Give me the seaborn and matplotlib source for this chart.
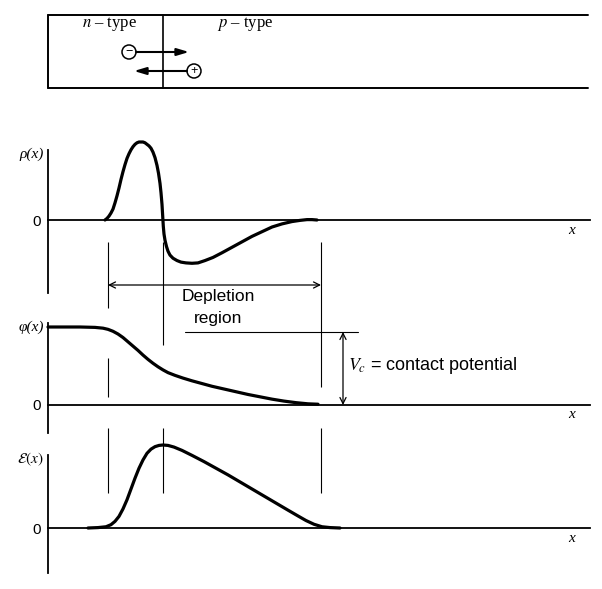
import matplotlib
matplotlib.use("Agg")
import matplotlib.pyplot as plt
from matplotlib.patches import Circle
import pandas as pd
import seaborn as sns

W, H = 602, 589

# charge density rho(x), normalised to its positive peak
rho_x = [105, 107, 109, 111, 113, 115, 117, 119, 121, 123, 125, 127, 129, 131, 133, 135,
         137, 139, 141, 143, 145, 147, 149, 151, 153, 155, 157, 158.5, 160, 161, 162,
         162.7, 163.3, 164, 165, 166.5, 168, 170, 173, 177, 181, 186, 192, 198, 205,
         213, 222, 232, 242, 252, 262, 272, 282, 292, 300, 307, 312, 317]
rho_val = [0.0, 0.02, 0.05, 0.09, 0.14, 0.22, 0.31, 0.41, 0.52, 0.62, 0.71, 0.79, 0.85,
           0.90, 0.94, 0.97, 0.99, 1.0, 1.0, 1.0, 0.99, 0.97, 0.95, 0.92, 0.87, 0.80,
           0.70, 0.60, 0.47, 0.35, 0.20, 0.05, -0.08, -0.18, -0.26, -0.34, -0.40, -0.45,
           -0.49, -0.52, -0.54, -0.55, -0.555, -0.55, -0.52, -0.48, -0.42, -0.35, -0.28,
           -0.21, -0.15, -0.09, -0.05, -0.02, -0.005, 0.005, 0.005, 0.0]

# electrostatic potential phi(x), normalised to the contact potential
phi_x = [48, 80, 95, 103, 108, 113, 118, 123, 128, 133, 138, 143, 148, 153, 158, 163,
         168, 175, 183, 192, 202, 212, 224, 236, 248, 260, 272, 284, 296, 308, 318]
phi_val = [1.0, 1.0, 0.995, 0.985, 0.97, 0.945, 0.91, 0.865, 0.81, 0.755, 0.70, 0.64,
           0.585, 0.535, 0.49, 0.45, 0.415, 0.38, 0.345, 0.31, 0.275, 0.24, 0.205, 0.17,
           0.135, 0.105, 0.075, 0.05, 0.03, 0.015, 0.01]

# electric field E(x), normalised to its peak
field_x = [88, 98, 106, 111, 115, 119, 123, 127, 131, 135, 139, 143, 147, 151, 155, 159,
           163, 168, 174, 182, 192, 204, 216, 228, 240, 252, 264, 276, 288, 298, 306,
           314, 322, 330, 340]
field_val = [0.0, 0.005, 0.015, 0.04, 0.08, 0.14, 0.23, 0.34, 0.47, 0.60, 0.72, 0.82,
             0.90, 0.95, 0.98, 0.995, 1.0, 0.995, 0.975, 0.935, 0.875, 0.80, 0.72, 0.64,
             0.555, 0.47, 0.385, 0.30, 0.215, 0.145, 0.09, 0.045, 0.015, 0.005, 0.0]

# depletion edges and junction position (same x units)
dep_left, junction, dep_right = 108, 163, 321

sns.set_theme(style="white")
plt.rcParams["font.family"] = ["Liberation Sans", "DejaVu Sans"]
plt.rcParams["mathtext.fontset"] = "stix"
for key in ["text.color", "axes.labelcolor", "xtick.color", "ytick.color"]:
    plt.rcParams[key] = "black"

fig = plt.figure(figsize=(W / 100, H / 100), dpi=100)
fig.patch.set_facecolor("white")

SERIF = ["Liberation Serif", "DejaVu Serif"]


def panel(base, scale, top, bottom, x, val, label):
    """full-figure transparent axes whose value 0 sits at pixel row `base`."""
    ax = fig.add_axes([0, 0, 1, 1])
    ax.set_xlim(0, W)
    ax.set_ylim((base - H) / scale, base / scale)
    ax.patch.set_alpha(0)
    for side in ["top", "right"]:
        ax.spines[side].set_visible(False)
    ax.spines["left"].set_position(("data", 48))
    ax.spines["left"].set_bounds((base - bottom) / scale, (base - top) / scale)
    ax.spines["bottom"].set_position(("data", 0))
    ax.spines["bottom"].set_bounds(48, 590)
    for side in ["left", "bottom"]:
        ax.spines[side].set_color("black")
        ax.spines[side].set_linewidth(1.3)
    ax.set_xticks([])
    ax.set_yticks([0])
    ax.set_yticklabels(["0"], fontsize=11)
    ax.tick_params(axis="y", length=0, pad=5)
    df = pd.DataFrame({"x": x, "v": val})
    sns.lineplot(data=df, x="x", y="v", ax=ax, color="black", lw=2.3, sort=False,
                 solid_joinstyle="round", solid_capstyle="round")
    ax.set_xlabel("")
    ax.set_ylabel("")
    ax.text(44, (base - top - 4) / scale, label, ha="right", va="center",
            fontsize=11, style="italic", family=SERIF)
    ax.text(572, -10 / scale, "x", ha="center", va="center", fontsize=11,
            style="italic", family=SERIF)
    return ax


panel(220, 78, 150, 293, rho_x, rho_val, "ρ(x)")
panel(405, 78, 323, 433, phi_x, phi_val, "φ(x)")
panel(528, 83, 455, 573, field_x, field_val, r"$\mathcal{E}(x)$")

# overlay in pixel units for the sketch annotations
ov = fig.add_axes([0, 0, 1, 1])
ov.set_xlim(0, W)
ov.set_ylim(H, 0)
ov.patch.set_alpha(0)
ov.axis("off")

# device box at the top
ov.plot([48, 588], [15, 15], color="black", lw=1.4)
ov.plot([48, 588], [88, 88], color="black", lw=1.4)
ov.plot([48, 48], [15, 88], color="black", lw=1.4)
ov.plot([junction, junction], [15, 88], color="black", lw=1.2)
ov.text(110, 24, "$n$ – type", ha="center", va="center", fontsize=12, family=SERIF)
ov.text(245, 24, "$p$ – type", ha="center", va="center", fontsize=12, family=SERIF)

ov.add_patch(Circle((129, 52), 7, fill=False, lw=1.1, color="black"))
ov.text(129, 52, "−", ha="center", va="center", fontsize=9)
ov.add_patch(Circle((194, 71), 7, fill=False, lw=1.1, color="black"))
ov.text(194, 71, "+", ha="center", va="center", fontsize=9)
head = dict(arrowstyle="-|>,head_length=0.6,head_width=0.18", color="black", lw=1.5,
            shrinkA=0, shrinkB=0)
ov.annotate("", xy=(189, 52), xytext=(136, 52), arrowprops=head)
ov.annotate("", xy=(134, 71), xytext=(187, 71), arrowprops=head)

# depletion region markers
thin = dict(color="black", lw=0.8)
ov.vlines([dep_left], 242, 308, **thin)
ov.vlines([junction], 242, 345, **thin)
ov.vlines([dep_right], 242, 387, **thin)
ov.vlines([dep_left], 358, 397, **thin)
ov.vlines([dep_left, junction, dep_right], 428, 493, **thin)

ov.annotate("", xy=(dep_left, 285), xytext=(dep_right, 285),
            arrowprops=dict(arrowstyle="<->", color="black", lw=0.9,
                            shrinkA=0, shrinkB=0, mutation_scale=11))
ov.text(218, 296, "Depletion", ha="center", va="center", fontsize=12.5)
ov.text(218, 318, "region", ha="center", va="center", fontsize=12.5)

# contact potential
ov.plot([185, 358], [332, 332], **thin)
ov.annotate("", xy=(343, 332), xytext=(343, 405),
            arrowprops=dict(arrowstyle="<->", color="black", lw=0.9,
                            shrinkA=0, shrinkB=0, mutation_scale=11))
ov.text(348, 365, "$V_c$ = contact potential", ha="left", va="center", fontsize=13)

fig.savefig("out.png", dpi=100, facecolor="white")
